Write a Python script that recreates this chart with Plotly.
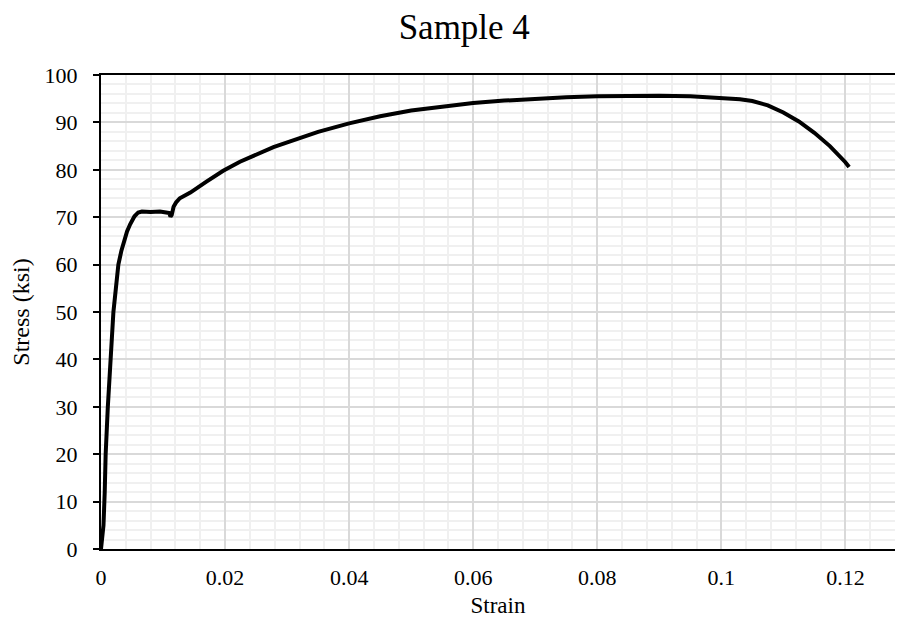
import plotly.graph_objects as go

strain = [0, 0.0002, 0.0004, 0.0006, 0.00075, 0.0011, 0.0015, 0.002, 0.0024, 0.0028,
          0.0033, 0.0037, 0.0042, 0.0047, 0.0054, 0.006, 0.0066, 0.008, 0.0095, 0.0105,
          0.011, 0.0112, 0.0114, 0.0117, 0.0121, 0.0127, 0.0144, 0.017, 0.0197, 0.0224,
          0.0251, 0.0278, 0.0305, 0.035, 0.04, 0.045, 0.05, 0.055, 0.06, 0.065,
          0.07, 0.075, 0.08, 0.085, 0.09, 0.095, 0.1, 0.103, 0.105, 0.1075,
          0.11, 0.1125, 0.115, 0.1175, 0.12, 0.1206]
stress = [0, 2, 5, 12, 20, 30, 40, 50, 55, 60,
          63, 65, 67, 68.5, 70.2, 71, 71.2, 71.1, 71.2, 71.0,
          70.9, 70.1, 70.5, 72.2, 73.1, 74.0, 75.2, 77.5, 79.8, 81.7,
          83.3, 84.8, 86.0, 88.0, 89.8, 91.3, 92.5, 93.4, 94.1, 94.6,
          95.0, 95.3, 95.5, 95.6, 95.6, 95.5, 95.2, 94.9, 94.5, 93.6,
          92.1, 90.2, 87.8, 85.0, 81.6, 80.6]

title_text = "Sample 4"
x_title = "Strain"
y_title = "Stress (ksi)"

FONT = "Liberation Serif, Times New Roman, serif"

fig = go.Figure()
fig.add_trace(go.Scatter(x=strain, y=stress, mode="lines",
                         line=dict(color="black", width=4),
                         showlegend=False, hoverinfo="skip"))

fig.update_layout(
    width=898, height=632,
    margin=dict(l=101, r=3, t=75, b=83),
    paper_bgcolor="white", plot_bgcolor="white",
    font=dict(family=FONT, color="black", size=22),
    title=dict(text=title_text, x=0.517, xanchor="center", y=0.957, yanchor="middle",
               font=dict(family=FONT, size=35, color="black")),
)
fig.update_xaxes(
    range=[0, 0.128], dtick=0.02, tick0=0,
    showline=True, linecolor="black", linewidth=2, mirror=True,
    showgrid=True, gridcolor="#d9d9d9", gridwidth=1.5,
    minor=dict(dtick=0.004, showgrid=True, gridcolor="#f0f0f0", gridwidth=1.5),
    ticks="", zeroline=False, ticklabelstandoff=8,
    tickfont=dict(family=FONT, size=22),
    title=dict(text=x_title, font=dict(family=FONT, size=23), standoff=7),
)
fig.update_yaxes(
    range=[0, 100], dtick=10, tick0=0,
    showline=True, linecolor="black", linewidth=2,
    showgrid=True, gridcolor="#d9d9d9", gridwidth=1.5,
    minor=dict(dtick=2, showgrid=True, gridcolor="#f0f0f0", gridwidth=1.5),
    ticks="outside", ticklen=6, tickcolor="black", tickwidth=1.5, zeroline=False,
    ticklabelstandoff=11,
    tickfont=dict(family=FONT, size=22),
    title=dict(text=y_title, font=dict(family=FONT, size=24), standoff=8),
)

fig.write_html("out.html")
